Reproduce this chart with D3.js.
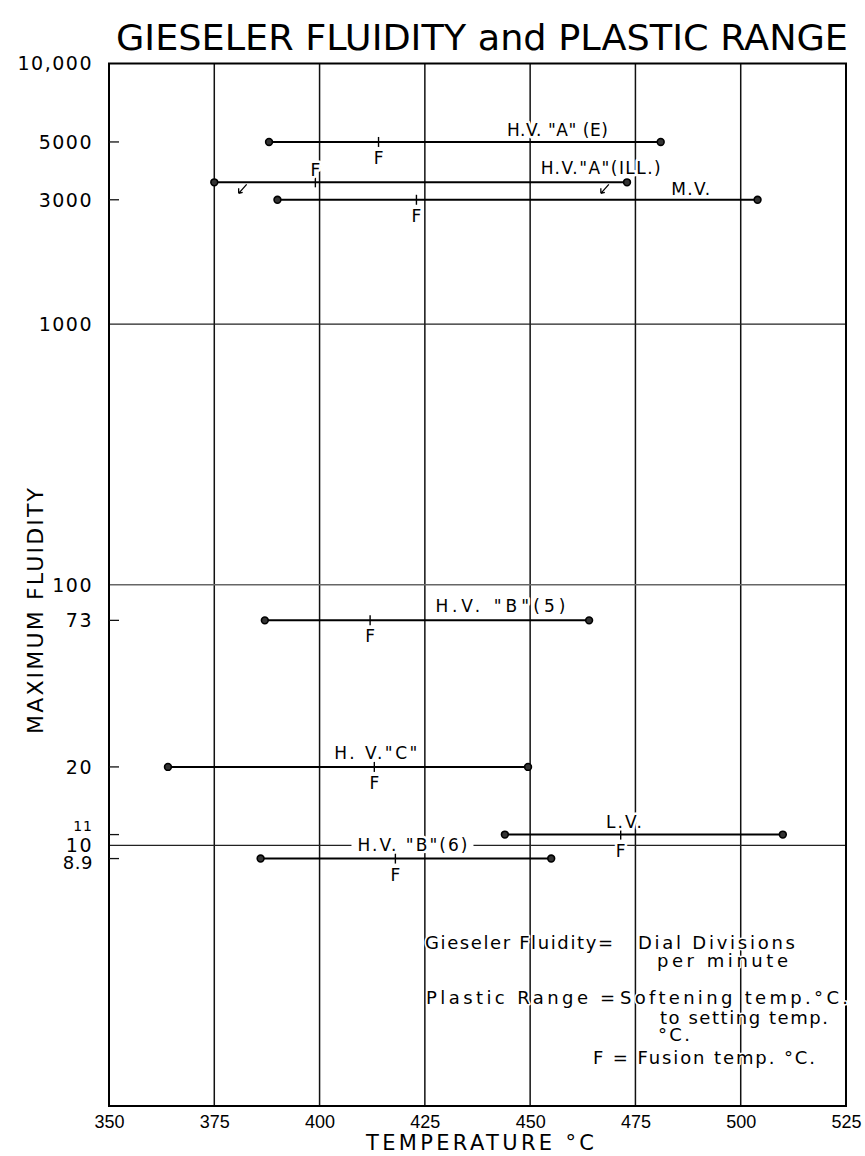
<!DOCTYPE html>
<html>
<head>
<meta charset="utf-8">
<script src="https://cdn.jsdelivr.net/npm/d3@7"></script>
<style>
  body { margin: 0; background: #fff; }
  svg { display: block; font-family: "DejaVu Sans", "Liberation Sans", sans-serif; }
  .halo { paint-order: stroke; stroke: #fff; stroke-width: 5px; stroke-linejoin: round; }
  .note { paint-order: stroke; stroke: #fff; stroke-width: 3px; stroke-linejoin: round; }
</style>
</head>
<body>
<svg id="chart" width="865" height="1156"></svg>
<script>
// coal samples
const seriesNames = ['H.V. "A" (E)', 'H.V."A"(ILL.)', 'M.V.', 'H.V. "B"(5)', 'H. V."C"', 'L.V.', 'H.V. "B"(6)'];
const maxFluidity = [5000, 3500, 3000, 73, 20, 11, 8.9];       // dial divisions per minute
const softeningTemp = [388, 375, 390, 387, 364, 444, 386];     // deg C, left end
const settingTemp = [481, 473, 504, 464, 449.5, 510, 455];     // deg C, right end
const fusionTemp = [414, 399, 423, 412, 413, 471.5, 418];      // deg C, F mark

// tick labels
const xTicks = [350, 375, 400, 425, 450, 475, 500, 525];
const yLabelValues = [10000, 5000, 3000, 1000, 100, 73, 20, 11, 10, 8.9];
const yLabelText = ['10,000', '5000', '3000', '1000', '100', '73', '20', '11', '10', '8.9'];
const yGridValues = [1000, 100, 10];
const yShortTicks = [5000, 3000, 73, 20, 11, 8.9];

// little check arrows on the ILL. line
const illArrowTemps = [381.5, 467.5];

// label layout: start (deg C), offset from the line (px), width (px)
const labelStart = [444.5, 452.5, 483.5, 427.5, 403.5, 468, 409];
const labelDy = [-6, -8, -5, -8, -8, -7, -7.5];
const labelWidth = [101, 120, 39, 130, 83, 36, 110];
const fAbove = [false, true, false, false, false, false, false];

const margin = {top: 63.5, right: 19, bottom: 50, left: 109};
const W = 865, H = 1156;
const width = W - margin.left - margin.right;
const height = H - margin.top - margin.bottom;

const svg = d3.select('#chart');

const x = d3.scaleLinear().domain([350, 525]).range([margin.left, margin.left + width]);
const y = d3.scaleLog().domain([1, 10000]).range([margin.top + height, margin.top]);

// title
svg.append('text')
    .attr('x', 116).attr('y', 50)
    .attr('font-size', 35)
    .attr('textLength', 732)
    .attr('lengthAdjust', 'spacingAndGlyphs')
    .text('GIESELER  FLUIDITY and  PLASTIC RANGE');

// vertical grid lines
svg.append('g')
    .selectAll('line')
    .data(xTicks.slice(1, -1))
    .enter()
    .append('line')
        .attr('x1', d => x(d)).attr('x2', d => x(d))
        .attr('y1', y(10000)).attr('y2', y(1))
        .attr('stroke', '#111').attr('stroke-width', 1.5);

// horizontal grid lines
svg.append('g')
    .selectAll('line')
    .data(yGridValues)
    .enter()
    .append('line')
        .attr('x1', x(350)).attr('x2', x(525))
        .attr('y1', d => y(d)).attr('y2', d => y(d))
        .attr('stroke', d => d === 100 ? '#666' : '#222')
        .attr('stroke-width', d => d === 100 ? 1.6 : 1.1);

// frame
svg.append('rect')
    .attr('x', x(350)).attr('y', y(10000))
    .attr('width', x(525) - x(350)).attr('height', y(1) - y(10000))
    .attr('fill', 'none').attr('stroke', '#000').attr('stroke-width', 2);

// short ticks on the left axis
svg.append('g')
    .selectAll('line')
    .data(yShortTicks)
    .enter()
    .append('line')
        .attr('x1', x(350)).attr('x2', x(350) + 10)
        .attr('y1', d => y(d)).attr('y2', d => y(d))
        .attr('stroke', '#111').attr('stroke-width', 1.3);

// y labels
let yLab = svg.append('g')
    .selectAll('text')
    .data(yLabelValues)
    .enter()
    .append('text')
        .attr('x', 93)
        .attr('y', d => y(d))
        .attr('dy', '0.36em')
        .attr('text-anchor', 'end')
        .attr('font-size', 19)
        .attr('letter-spacing', 1.5)
        .text((d, i) => yLabelText[i]);
// "11" sits small above the "10"
yLab.filter(d => d === 11).attr('font-size', 14).attr('dy', '-0.25em').attr('letter-spacing', 1);
yLab.filter(d => d === 10).attr('dy', '0.36em');
yLab.filter(d => d === 8.9).attr('font-size', 18).attr('letter-spacing', 0.5).attr('dy', '0.58em');

// x axis labels
let xAxis = svg.append('g')
    .attr('transform', 'translate(0,' + y(1) + ')')
    .call(d3.axisBottom(x).tickValues(xTicks).tickSize(0).tickPadding(9).tickFormat(d3.format('d')));
xAxis.select('.domain').remove();
xAxis.selectAll('text')
    .attr('font-size', 18)
    .attr('fill', '#000');

// axis titles
svg.append('text')
    .attr('x', 480).attr('y', 1150)
    .attr('text-anchor', 'middle')
    .attr('font-size', 21)
    .attr('textLength', 228)
    .attr('lengthAdjust', 'spacing')
    .text('TEMPERATURE °C');

svg.append('text')
    .attr('transform', 'translate(43,' + 611 + ') rotate(-90)')
    .attr('text-anchor', 'middle')
    .attr('font-size', 22)
    .attr('textLength', 246)
    .attr('lengthAdjust', 'spacing')
    .text('MAXIMUM  FLUIDITY');

// build row objects
let rows = seriesNames.map((name, i) => ({
    name: name,
    value: maxFluidity[i],
    soft: softeningTemp[i],
    set: settingTemp[i],
    fusion: fusionTemp[i],
    i: i
}));

let g = svg.selectAll('.coal')
    .data(rows)
    .enter()
    .append('g')
    .attr('class', 'coal');

// plastic range line
g.append('line')
    .attr('x1', d => x(d.soft)).attr('x2', d => x(d.set))
    .attr('y1', d => y(d.value)).attr('y2', d => y(d.value))
    .attr('stroke', '#000').attr('stroke-width', 2);

// fusion tick
g.append('line')
    .attr('x1', d => x(d.fusion)).attr('x2', d => x(d.fusion))
    .attr('y1', d => y(d.value) - 5).attr('y2', d => y(d.value) + 5)
    .attr('stroke', '#000').attr('stroke-width', 1.4);

// end points
g.selectAll('circle')
    .data(d => [{t: d.soft, v: d.value}, {t: d.set, v: d.value}])
    .enter()
    .append('circle')
        .attr('cx', d => x(d.t))
        .attr('cy', d => y(d.v))
        .attr('r', 3.4)
        .attr('fill', '#333')
        .attr('stroke', '#000')
        .attr('stroke-width', 1.6);

// arrows on the ILL. line
svg.append('g')
    .selectAll('path')
    .data(illArrowTemps)
    .enter()
    .append('path')
        .attr('d', d => {
            let px = x(d), py = y(maxFluidity[1]);
            return 'M' + (px + 5) + ',' + (py + 2) + ' L' + (px - 3) + ',' + (py + 11) +
                ' M' + (px - 3) + ',' + (py + 11) + ' l0,-5' +
                ' M' + (px - 3) + ',' + (py + 11) + ' l4,-1';
        })
        .attr('fill', 'none').attr('stroke', '#000').attr('stroke-width', 1.3);

// F labels
g.append('text')
    .attr('class', 'halo')
    .attr('x', d => x(d.fusion))
    .attr('y', d => fAbove[d.i] ? y(d.value) - 6 : y(d.value) + 22)
    .attr('text-anchor', 'middle')
    .attr('font-size', 17)
    .text('F');

// series names
g.append('text')
    .attr('class', 'halo name')
    .attr('x', d => x(labelStart[d.i]))
    .attr('y', d => y(d.value) + labelDy[d.i])
    .attr('font-size', 17)
    .attr('textLength', d => labelWidth[d.i])
    .attr('lengthAdjust', 'spacing')
    .text(d => d.name);

// the "B"(6) name breaks the 10 grid line, so blank a strip behind it
g.filter(d => d.value === 8.9).each(function() {
    let grp = d3.select(this);
    let bb = grp.select('text.name').node().getBBox();
    grp.insert('rect', 'text.name')
        .attr('x', bb.x - 6).attr('y', bb.y + 2)
        .attr('width', bb.width + 12).attr('height', bb.height - 4)
        .attr('fill', '#fff');
});

// note in the lower right
const notes = [
    {x: 425, y: 949, w: 188, t: 'Gieseler Fluidity='},
    {x: 638, y: 949, w: 157, t: 'Dial Divisions'},
    {x: 657, y: 967, w: 131, t: 'per  minute'},
    {x: 426, y: 1004, w: 162, t: 'Plastic Range'},
    {x: 600, y: 1004, w: 10, t: '='},
    {x: 620, y: 1004, w: 228, t: 'Softening temp.°C.'},
    {x: 660, y: 1024, w: 168, t: 'to setting temp.'},
    {x: 658, y: 1041, w: 32, t: '°C.'},
    {x: 593, y: 1064, w: 222, t: 'F = Fusion  temp. °C.'}
];
svg.append('g')
    .selectAll('text')
    .data(notes)
    .enter()
    .append('text')
        .attr('class', 'note')
        .attr('x', d => d.x)
        .attr('y', d => d.y)
        .attr('font-size', 18)
        .attr('textLength', d => d.w)
        .attr('lengthAdjust', 'spacing')
        .text(d => d.t);
</script>
</body>
</html>
